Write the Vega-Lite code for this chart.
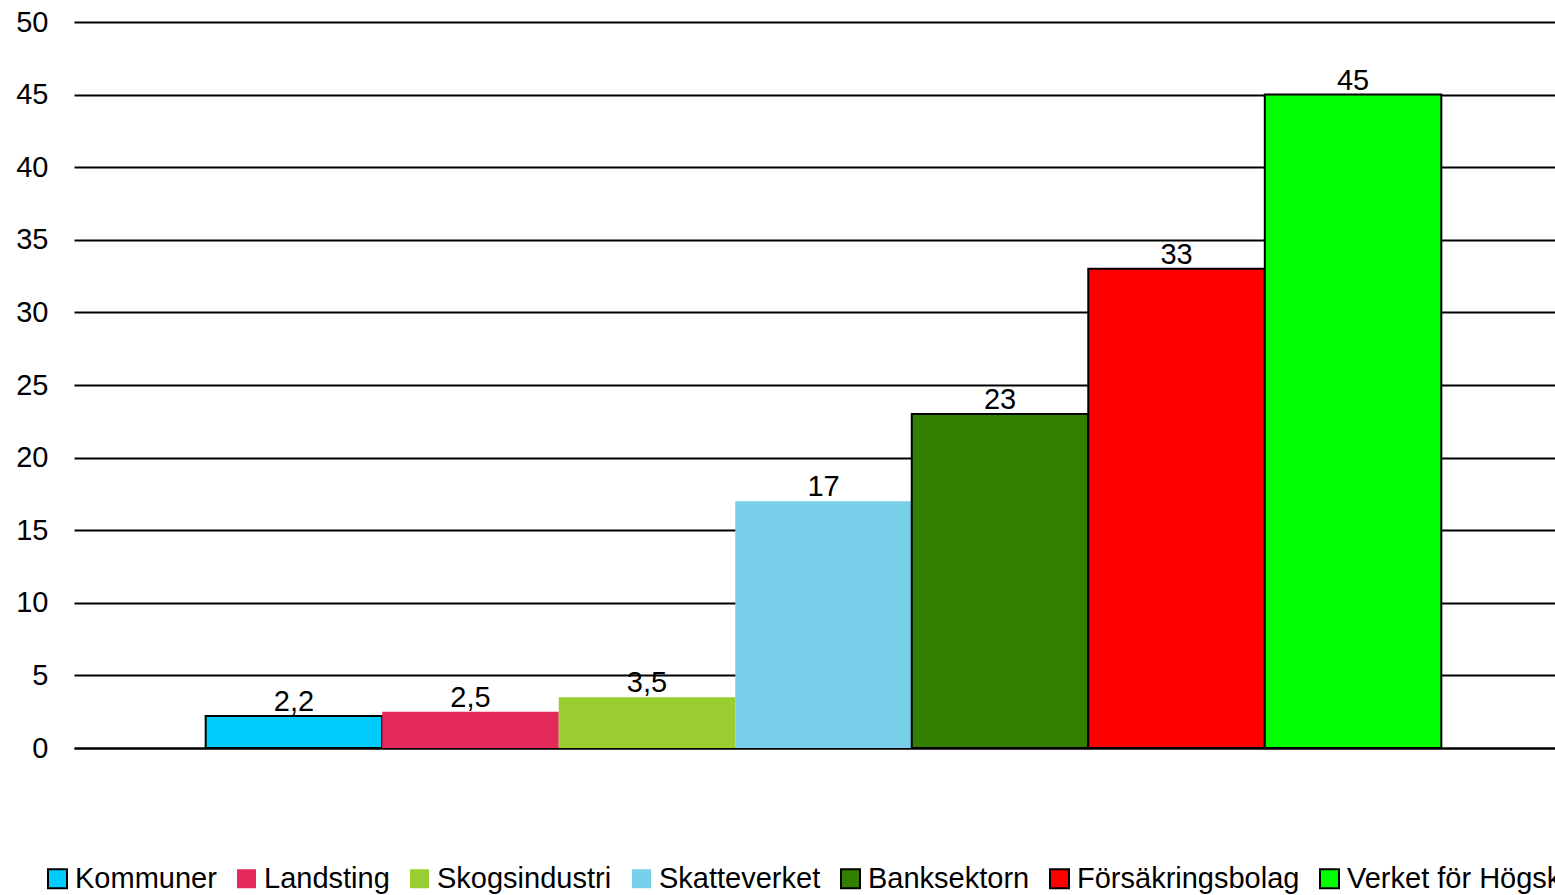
{
  "$schema": "https://vega.github.io/schema/vega-lite/v6.json",
  "autosize": {"type": "none"},
  "padding": {"left": 74, "top": 22, "right": 0, "bottom": 147},
  "width": 1499,
  "height": 726,
  "background": "white",
  "config": {
    "locale": {"number": {"decimal": ",", "thousands": " ", "grouping": [3], "currency": ["", " kr"]}},
    "font": "Liberation Sans",
    "view": {"stroke": null}
  },
  "data": {
    "values": [
      {"org": "Kommuner", "value": 2.2},
      {"org": "Landsting", "value": 2.5},
      {"org": "Skogsindustri", "value": 3.5},
      {"org": "Skatteverket", "value": 17},
      {"org": "Banksektorn", "value": 23},
      {"org": "Försäkringsbolag", "value": 33},
      {"org": "Verket för Högskoleservice", "value": 45}
    ]
  },
  "encoding": {
    "x": {
      "field": "org",
      "type": "nominal",
      "sort": null,
      "scale": {"paddingInner": 0, "paddingOuter": 0.746},
      "axis": {"title": null, "labels": false, "ticks": false, "domain": true, "domainColor": "#000000", "domainWidth": 2}
    },
    "y": {
      "field": "value",
      "type": "quantitative",
      "scale": {"domain": [0, 50], "nice": false},
      "axis": {
        "title": null,
        "values": [0, 5, 10, 15, 20, 25, 30, 35, 40, 45, 50],
        "domain": false,
        "ticks": false,
        "grid": true,
        "gridColor": "#000000",
        "gridWidth": 2,
        "gridOpacity": 1,
        "labelFontSize": 29,
        "labelColor": "#000000",
        "labelPadding": 26,
        "labelFont": "Liberation Sans"
      }
    }
  },
  "layer": [
    {
      "mark": {"type": "bar", "strokeWidth": 2},
      "encoding": {
        "fill": {
          "field": "org",
          "type": "nominal",
          "sort": null,
          "scale": {
            "domain": ["Kommuner", "Landsting", "Skogsindustri", "Skatteverket", "Banksektorn", "Försäkringsbolag", "Verket för Högskoleservice"],
            "range": ["#00CCFF", "#E5295A", "#9ACD32", "#78CFEA", "#338000", "#FF0000", "#00FF00"]
          },
          "legend": {
            "title": null,
            "orient": "none",
            "legendX": -31,
            "legendY": 842,
            "direction": "horizontal",
            "columns": 7,
            "symbolType": "square",
            "symbolSize": 361,
            "symbolStrokeWidth": 2,
            "symbolOpacity": 1,
            "labelFontSize": 29,
            "labelColor": "#000000",
            "labelFont": "Liberation Sans",
            "labelOffset": 3,
            "labelLimit": 0,
            "columnPadding": 15
          }
        },
        "stroke": {
          "field": "org",
          "type": "nominal",
          "sort": null,
          "scale": {
            "domain": ["Kommuner", "Landsting", "Skogsindustri", "Skatteverket", "Banksektorn", "Försäkringsbolag", "Verket för Högskoleservice"],
            "range": ["#000000", "transparent", "transparent", "transparent", "#000000", "#000000", "#000000"]
          },
          "legend": {
            "title": null,
            "orient": "none",
            "legendX": -31,
            "legendY": 842,
            "direction": "horizontal",
            "columns": 7,
            "symbolType": "square",
            "symbolSize": 361,
            "symbolStrokeWidth": 2,
            "labelFontSize": 29,
            "labelColor": "#000000",
            "labelFont": "Liberation Sans",
            "labelOffset": 3,
            "labelLimit": 0,
            "columnPadding": 15
          }
        }
      }
    },
    {
      "mark": {"type": "text", "baseline": "alphabetic", "dy": -5, "fontSize": 29, "color": "#000000", "font": "Liberation Sans"},
      "encoding": {
        "text": {"field": "value", "type": "quantitative", "format": "~g"}
      }
    }
  ]
}
